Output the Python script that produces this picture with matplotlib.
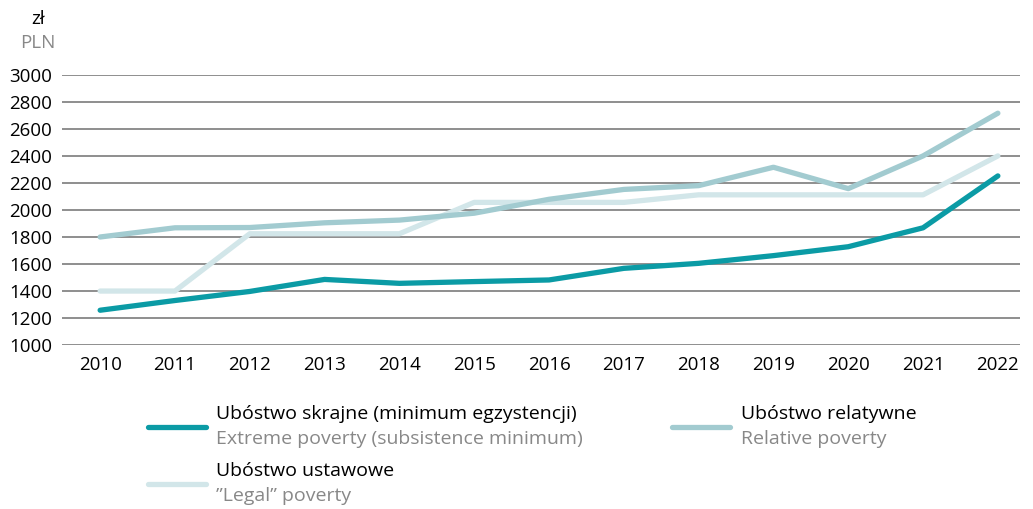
import matplotlib
matplotlib.use("Agg")
import matplotlib.pyplot as plt
from matplotlib.lines import Line2D

plt.rcParams['font.family'] = ['Open Sans', 'DejaVu Sans']

years = list(range(2010, 2023))
extreme = [1258, 1330, 1397, 1486, 1457, 1470, 1482, 1568, 1605, 1662, 1728, 1868, 2252]
relative = [1800, 1868, 1870, 1905, 1925, 1976, 2079, 2152, 2180, 2316, 2158, 2400, 2716]
legal = [1400, 1400, 1824, 1824, 1824, 2056, 2056, 2056, 2112, 2112, 2112, 2112, 2400]

yticks = list(range(1000, 3001, 200))

c_extreme = '#0b9ba5'
c_relative = '#a2cbd0'
c_legal = '#d2e6e9'
grey_txt = '#888888'

fig = plt.figure(figsize=(10.33, 5.09), dpi=100)
ax = fig.add_axes([0.060, 0.322, 0.927, 0.531])

for v in yticks:
    ax.axhline(v, color='#707070', lw=1.1, zorder=1)

ax.plot(years, legal, color=c_legal, lw=3.8, solid_capstyle='round', zorder=3)
ax.plot(years, relative, color=c_relative, lw=3.8, solid_capstyle='round', zorder=4)
ax.plot(years, extreme, color=c_extreme, lw=3.8, solid_capstyle='round', zorder=5)

ax.set_xlim(2010 - 0.51, 2022 + 0.29)
ax.set_ylim(1000, 3000)
ax.set_xticks(years)
ax.set_yticks(yticks)
ax.tick_params(length=0, labelsize=13.5, pad=8)
ax.tick_params(axis='y', pad=7)
for s in ax.spines.values():
    s.set_visible(False)

fig.text(0.037, 0.963, 'zł', ha='center', va='center', fontsize=13.5)
fig.text(0.037, 0.915, 'PLN', ha='center', va='center', fontsize=13.5, color=grey_txt)

# legend
def entry(x0, y_line, main, sub, color):
    fig.add_artist(Line2D([x0, x0 + 0.056], [y_line, y_line], transform=fig.transFigure,
                          color=color, lw=3.8, solid_capstyle='round'))
    fig.text(x0 + 0.066, y_line + 0.025, main, ha='left', va='center', fontsize=14)
    fig.text(x0 + 0.066, y_line - 0.024, sub, ha='left', va='center', fontsize=14, color=grey_txt)

entry(0.143, 1 - 427 / 509, 'Ubóstwo skrajne (minimum egzystencji)',
      'Extreme poverty (subsistence minimum)', c_extreme)
entry(0.651, 1 - 427 / 509, 'Ubóstwo relatywne', 'Relative poverty', c_relative)
entry(0.143, 1 - 484 / 509, 'Ubóstwo ustawowe', '”Legal” poverty', c_legal)

fig.savefig('out.png', dpi=100)
